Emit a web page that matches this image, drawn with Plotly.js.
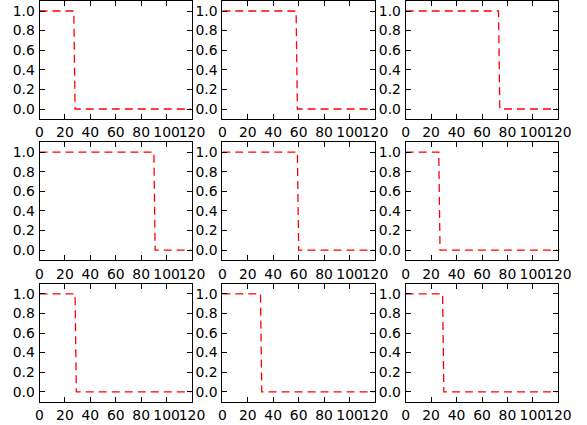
<!DOCTYPE html>
<html><head><meta charset="utf-8">
<script src="https://cdn.plot.ly/plotly-3.0.1.min.js"></script>
<style>html,body{margin:0;padding:0;background:#fff}#chart{width:587px;height:425px}</style>
</head><body><div id="chart"></div>
<script>
// Data: each panel is a step from 1 down to 0
const xTicks = [0, 20, 40, 60, 80, 100, 120];
const yTicks = [0.0, 0.2, 0.4, 0.6, 0.8, 1.0];
const x1 = [0, 27, 28, 119]; const y1 = [1, 1, 0, 0];
const x2 = [0, 58, 59, 119]; const y2 = [1, 1, 0, 0];
const x3 = [0, 73, 74, 119]; const y3 = [1, 1, 0, 0];
const x4 = [0, 90, 91, 119]; const y4 = [1, 1, 0, 0];
const x5 = [0, 59, 60, 119]; const y5 = [1, 1, 0, 0];
const x6 = [0, 26, 27, 119]; const y6 = [1, 1, 0, 0];
const x7 = [0, 28, 29, 119]; const y7 = [1, 1, 0, 0];
const x8 = [0, 30, 31, 119]; const y8 = [1, 1, 0, 0];
const x9 = [0, 29, 30, 119]; const y9 = [1, 1, 0, 0];

const xs = [x1, x2, x3, x4, x5, x6, x7, x8, x9];
const ys = [y1, y2, y3, y4, y5, y6, y7, y8, y9];

const W = 587, H = 425;
const colPx = [[39.5, 192], [222.3, 375], [405.7, 558.3]];
const rowPx = [[1.2, 118.8], [142.3, 260.0], [284.0, 401.6]];

const font = {family: 'DejaVu Sans', size: 13.9, color: '#000'};
const data = [];
const layout = {
  width: W, height: H,
  margin: {l: 0, r: 0, t: 0, b: 0},
  paper_bgcolor: '#fff', plot_bgcolor: '#fff',
  showlegend: false,
  font: font
};

for (let i = 0; i < 9; i++) {
  const r = Math.floor(i / 3), c = i % 3;
  const sfx = i === 0 ? '' : String(i + 1);
  data.push({
    x: xs[i], y: ys[i], type: 'scatter', mode: 'lines',
    xaxis: 'x' + sfx, yaxis: 'y' + sfx,
    line: {color: '#ff0000', width: 1.3, dash: '8px,5px'},
    hoverinfo: 'skip'
  });
  const common = {
    showline: true, linecolor: '#000', linewidth: 1, mirror: 'ticks',
    ticks: 'inside', ticklen: 5, tickwidth: 1, tickcolor: '#000',
    showgrid: false, zeroline: false, tickfont: font, tickangle: 0,
    tickmode: 'array', fixedrange: true
  };
  layout['xaxis' + sfx] = Object.assign({}, common, {
    domain: [colPx[c][0] / W, colPx[c][1] / W],
    range: [0, 120], tickvals: xTicks, ticktext: xTicks.map(String),
    anchor: 'y' + sfx, ticklabelstandoff: 1
  });
  layout['yaxis' + sfx] = Object.assign({}, common, {
    domain: [1 - rowPx[r][1] / H, 1 - rowPx[r][0] / H],
    range: [-0.1, 1.1], tickvals: yTicks, ticktext: yTicks.map(v => v.toFixed(1)),
    anchor: 'x' + sfx, ticklabelstandoff: 1
  });
}

Plotly.newPlot('chart', data, layout, {staticPlot: true, displayModeBar: false});
</script>
</body></html>
